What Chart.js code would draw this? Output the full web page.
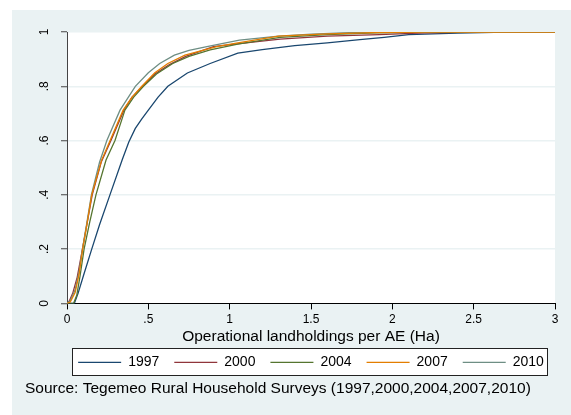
<!DOCTYPE html>
<html>
<head>
<meta charset="utf-8">
<script src="https://cdn.jsdelivr.net/npm/chart.js@4"></script>
<style>
  html, body { margin: 0; padding: 0; background: #fff; }
  canvas { display: block; }
</style>
</head>
<body>
<canvas id="cdf" width="571" height="415"></canvas>
<script>
// cumulative share of households by landholding per AE, one curve per survey year
const years = ['1997', '2000', '2004', '2007', '2010'];

const x1997 = [0, 0.045, 0.068, 0.1, 0.152, 0.2, 0.264, 0.34, 0.38, 0.42, 0.46, 0.5, 0.56, 0.62, 0.74, 0.88, 1.05, 1.2, 1.4, 1.6, 1.8, 1.95, 2.1, 2.4, 2.7, 3];
const y1997 = [0, 0, 0.037, 0.1, 0.2, 0.29, 0.4, 0.53, 0.595, 0.645, 0.68, 0.712, 0.76, 0.8, 0.849, 0.884, 0.922, 0.935, 0.95, 0.96, 0.972, 0.98, 0.99, 0.996, 1, 1];

const x2000 = [0, 0.015, 0.035, 0.063, 0.095, 0.125, 0.155, 0.21, 0.27, 0.35, 0.4, 0.465, 0.54, 0.63, 0.73, 0.9, 1.03, 1.31, 1.6, 1.92, 2.2, 2.5, 3];
const y2000 = [0, 0.01, 0.037, 0.097, 0.2, 0.3, 0.4, 0.52, 0.6, 0.712, 0.76, 0.8, 0.845, 0.88, 0.91, 0.946, 0.955, 0.974, 0.985, 0.99, 0.997, 1, 1];

const x2004 = [0, 0.04, 0.06, 0.08, 0.105, 0.14, 0.178, 0.24, 0.295, 0.356, 0.41, 0.47, 0.55, 0.65, 0.75, 0.88, 1.05, 1.31, 1.6, 1.9, 2.2, 3];
const y2004 = [0, 0, 0.03, 0.1, 0.2, 0.3, 0.4, 0.528, 0.6, 0.712, 0.76, 0.8, 0.845, 0.884, 0.91, 0.934, 0.955, 0.98, 0.99, 0.997, 1, 1];

const x2007 = [0, 0.02, 0.05, 0.075, 0.096, 0.125, 0.152, 0.213, 0.265, 0.345, 0.4, 0.46, 0.54, 0.62, 0.725, 0.92, 1.05, 1.3, 1.6, 1.9, 2.2, 3];
const y2007 = [0, 0.005, 0.04, 0.11, 0.2, 0.3, 0.4, 0.528, 0.6, 0.712, 0.76, 0.8, 0.85, 0.884, 0.915, 0.946, 0.96, 0.985, 0.993, 0.998, 1, 1];

const x2010 = [0, 0.02, 0.05, 0.075, 0.095, 0.123, 0.15, 0.2, 0.245, 0.326, 0.42, 0.5, 0.57, 0.66, 0.75, 0.86, 1.06, 1.3, 1.5, 1.75, 2.0, 3];
const y2010 = [0, 0.01, 0.05, 0.12, 0.2, 0.3, 0.4, 0.52, 0.6, 0.712, 0.8, 0.85, 0.884, 0.915, 0.932, 0.946, 0.97, 0.985, 0.992, 0.998, 1, 1];

const xTickLabels = ['0', '.5', '1', '1.5', '2', '2.5', '3'];
const yTickLabels = ['0', '.2', '.4', '.6', '.8', '1'];

const xs = [x1997, x2000, x2004, x2007, x2010];
const ys = [y1997, y2000, y2004, y2007, y2010];
const colors = ['#1a476f', '#90353b', '#55752f', '#e37e00', '#6e8e84'];
const drawOrder = [5, 4, 3, 1, 2];

Chart.defaults.font.family = '"Liberation Sans", Arial, sans-serif';
Chart.defaults.color = '#000';

// stata-like backgrounds, legend frame
const backdrop = {
    id: 'backdrop',
    afterLayout(chart) {
        // centre the legend row under the plot instead of the whole canvas
        const lg = chart.legend, a = chart.chartArea;
        lg.left = a.left - 30;
        lg.right = a.right + 30;
        lg.width = lg.right - lg.left;
    },
    beforeDraw(chart) {
        const {ctx, chartArea: a, width, height} = chart;
        ctx.save();
        ctx.fillStyle = '#fff';
        ctx.fillRect(0, 0, width, height);
        ctx.fillStyle = '#eaf2f3';
        ctx.fillRect(12, 10, width - 12, height - 10);
        ctx.fillStyle = '#fff';
        ctx.fillRect(a.left, a.top, a.right - a.left, a.bottom - a.top);
        const hb = chart.legend.legendHitBoxes;
        if (hb && hb.length) {
            const last = hb[hb.length - 1];
            const l = Math.round(hb[0].left - 6), r = Math.round(last.left + last.width + 3);
            const t = Math.round(hb[0].top - 7), b = Math.round(hb[0].top + hb[0].height + 6);
            ctx.fillRect(l, t, r - l, b - t);
            ctx.strokeStyle = '#222';
            ctx.lineWidth = 1;
            ctx.strokeRect(l + 0.5, t + 0.5, r - l, b - t);
        }
        ctx.restore();
    }
};

new Chart(document.getElementById('cdf'), {
    type: 'line',
    data: {
        datasets: years.map((yr, i) => ({
            label: yr,
            data: xs[i].map((x, j) => ({x: x, y: ys[i][j]})),
            borderColor: colors[i],
            backgroundColor: colors[i],
            borderWidth: 1.3,
            pointRadius: 0,
            tension: 0,
            fill: false,
            order: drawOrder[i]
        }))
    },
    options: {
        responsive: false,
        animation: false,
        events: [],
        layout: { padding: { left: 25, right: 16, top: 32, bottom: 17 } },
        scales: {
            x: {
                type: 'linear',
                min: 0,
                max: 3,
                afterFit: (s) => { s.height = 37; },
                ticks: {
                    stepSize: 0.5,
                    font: { size: 12 },
                    padding: 3,
                    maxRotation: 0,
                    callback: (v, i) => xTickLabels[i]
                },
                grid: { drawOnChartArea: false, tickLength: 6, tickColor: '#000' },
                border: { color: '#000', width: 1 },
                title: {
                    display: true,
                    text: 'Operational landholdings per AE (Ha)',
                    font: { size: 15.5 },
                    padding: { top: 0, bottom: -6 }
                }
            },
            y: {
                type: 'linear',
                min: 0,
                max: 1,
                afterFit: (s) => { s.width = 42; },
                ticks: {
                    stepSize: 0.2,
                    font: { size: 12 },
                    minRotation: 90,
                    maxRotation: 90,
                    crossAlign: 'center',
                    padding: 11,
                    callback: (v, i) => yTickLabels[i]
                },
                grid: {
                    color: (c) => (c.tick && c.tick.value === 0) ? 'rgba(0,0,0,0)' : '#eaf2f3',
                    lineWidth: 1.5,
                    tickLength: 6,
                    tickColor: '#444',
                    tickWidth: 1
                },
                border: { color: '#444', width: 1 }
            }
        },
        plugins: {
            legend: {
                position: 'bottom',
                labels: {
                    usePointStyle: true,
                    pointStyle: 'line',
                    pointStyleWidth: 43,
                    padding: 15,
                    font: { size: 14 },
                    sort: (a, b) => a.datasetIndex - b.datasetIndex
                }
            },
            subtitle: {
                display: true,
                position: 'bottom',
                align: 'start',
                text: 'Source: Tegemeo Rural Household Surveys (1997,2000,2004,2007,2010)',
                font: { size: 15.5 },
                padding: { top: 0, bottom: 0 }
            },
            tooltip: { enabled: false }
        }
    },
    plugins: [backdrop]
});
</script>
</body>
</html>
